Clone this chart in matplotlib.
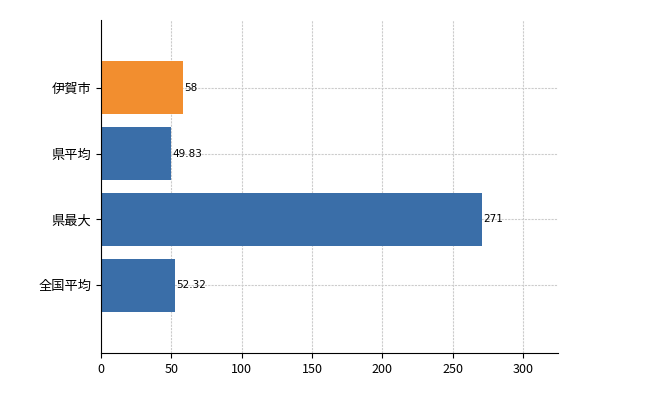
import matplotlib
matplotlib.use("Agg")
import matplotlib.pyplot as plt

plt.rcParams['font.family'] = ['Noto Sans CJK JP', 'DejaVu Sans']

categories = ["伊賀市", "県平均", "県最大", "全国平均"]
values = [58, 49.83, 271, 52.32]
labels = ["58", "49.83", "271", "52.32"]
colors = ["#F28E2F", "#3A6EA8", "#3A6EA8", "#3A6EA8"]

fig = plt.figure(figsize=(6.5, 4.0), dpi=100)
ax = fig.add_axes([101/650, 1-353/400, (558-101)/650, (353-20)/400])
pos = list(range(len(categories)))
ax.barh(pos, values, height=0.8, color=colors, zorder=2)
for p, v, l in zip(pos, values, labels):
    ax.text(v + 1, p, l, va="center", ha="left", fontsize=7.5, family=['DejaVu Sans'])
ax.set_yticks(pos)
ax.set_yticklabels(categories, fontsize=9.5)
ax.set_ylim(4.03, -1.03)
ax.set_xlim(0, 325)
ax.set_xticks([0, 50, 100, 150, 200, 250, 300])
ax.tick_params(axis='x', labelsize=9)
ax.grid(True, color="#cccccc", linestyle=(0, (2, 1)), linewidth=0.8, zorder=0)
for s in ["top", "right"]:
    ax.spines[s].set_visible(False)
fig.savefig("out.png", dpi=100)
